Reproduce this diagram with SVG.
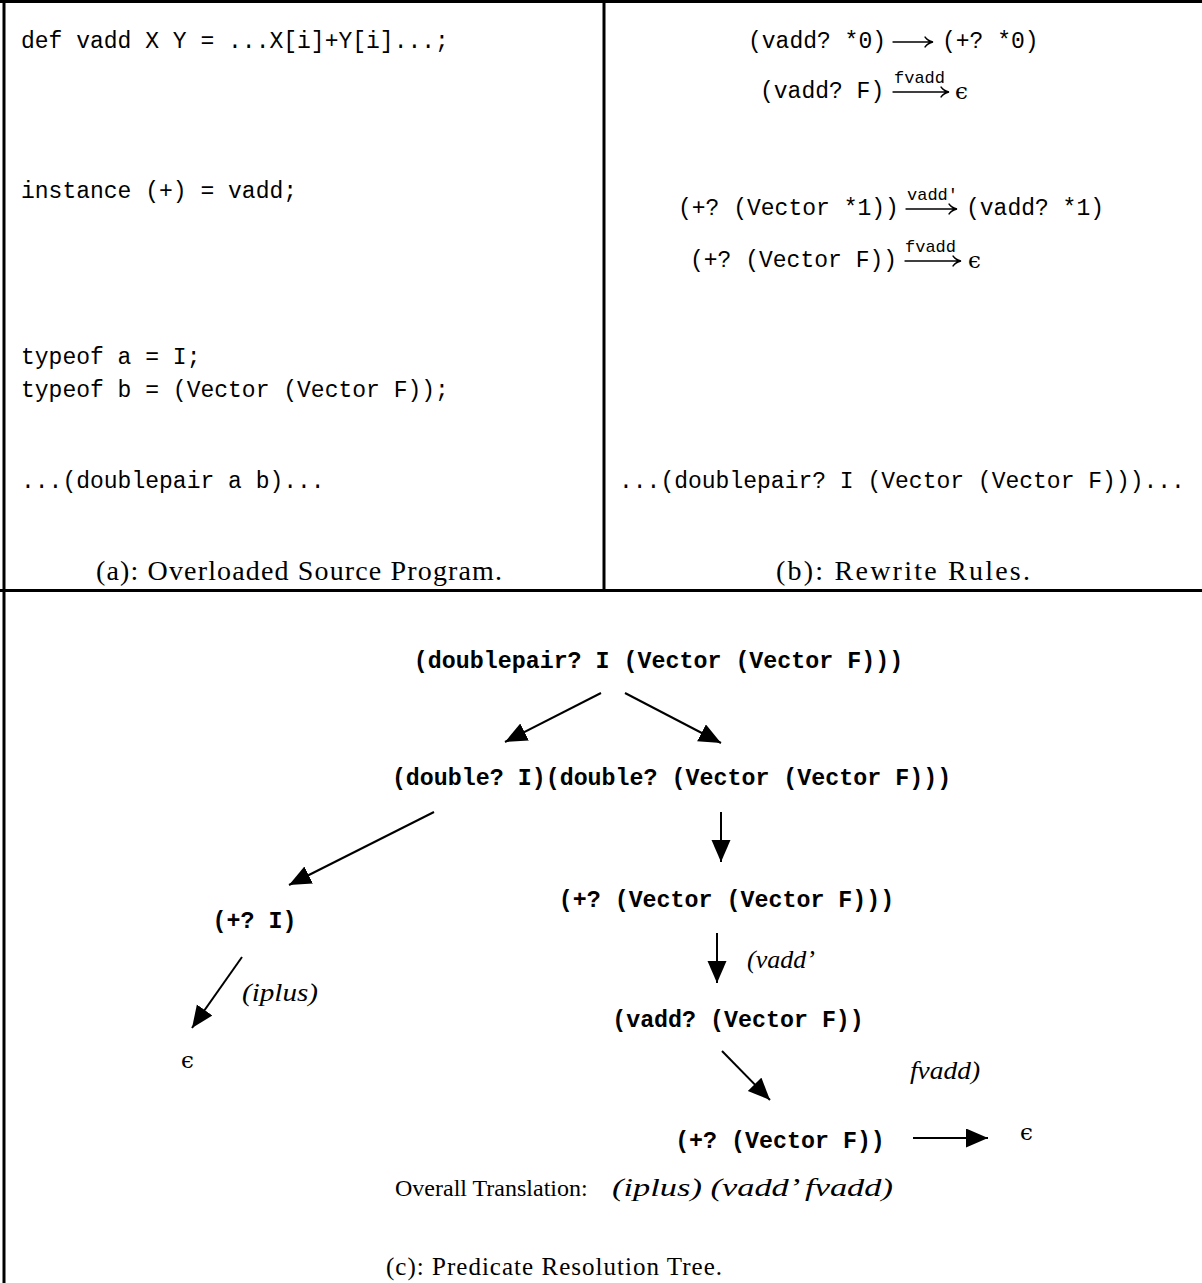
<svg xmlns="http://www.w3.org/2000/svg" width="1202" height="1283" viewBox="0 0 1202 1283">
  <style>
    .tt { font-family: "Liberation Mono", "DejaVu Sans Mono", monospace; font-size: 23px; fill: #000; }
    .ttb { font-family: "Liberation Mono", "DejaVu Sans Mono", monospace; font-size: 23.3px; font-weight: bold; fill: #000; text-anchor: middle; }
    .small { font-family: "Liberation Mono", "DejaVu Sans Mono", monospace; font-size: 17px; fill: #000; }
    .cap { font-family: "Liberation Serif", "DejaVu Serif", serif; font-size: 28px; fill: #000; }
    .capc { font-family: "Liberation Serif", "DejaVu Serif", serif; font-size: 25px; fill: #000; }
    .rm { font-family: "Liberation Serif", "DejaVu Serif", serif; font-size: 24px; fill: #000; }
    .it { font-family: "Liberation Serif", "DejaVu Serif", serif; font-size: 26px; font-style: italic; fill: #000; }
    .eps { font-family: "DejaVu Serif", "Liberation Serif", serif; font-size: 23px; fill: #000; }
    .rule { fill: none; stroke: #000; stroke-width: 3; }
    .edge { fill: none; stroke: #000; stroke-width: 2; }
    .tex { fill: none; stroke: #000; stroke-width: 1.3; stroke-linecap: round; }
  </style>
  <defs>
    <marker id="head" markerUnits="userSpaceOnUse" markerWidth="24" markerHeight="20" refX="22" refY="9.5" orient="auto">
      <path d="M0,0 L22,9.5 L0,19 z" fill="#000"/>
    </marker>
  </defs>

  <rect width="1202" height="1283" fill="#fff"/>

  <!-- frame -->
  <g id="frame">
    <line class="rule" x1="0" y1="1.5" x2="1202" y2="1.5"/>
    <line class="rule" x1="4" y1="0" x2="4" y2="1283"/>
    <line class="rule" x1="604" y1="0" x2="604" y2="590.5"/>
    <line class="rule" x1="0" y1="590.5" x2="1202" y2="590.5"/>
  </g>

  <!-- panel (a): source program -->
  <g id="panel-a">
    <text class="tt" x="21" y="48" xml:space="preserve">def vadd X Y = ...X[i]+Y[i]...;</text>
    <text class="tt" x="21" y="198" xml:space="preserve">instance (+) = vadd;</text>
    <text class="tt" x="21" y="364" xml:space="preserve">typeof a = I;</text>
    <text class="tt" x="21" y="397" xml:space="preserve">typeof b = (Vector (Vector F));</text>
    <text class="tt" x="21" y="488" xml:space="preserve">...(doublepair a b)...</text>
    <text class="cap" x="96" y="580" textLength="406" lengthAdjust="spacing">(a): Overloaded Source Program.</text>
  </g>

  <!-- panel (b): rewrite rules -->
  <g id="panel-b">
    <g id="rule1">
      <text class="tt" x="748" y="48" xml:space="preserve">(vadd? *0)</text>
      <path class="tex" d="M893,42 H932 M925,37 Q928,41 933,42 Q928,43 925,47"/>
      <text class="tt" x="942" y="48" xml:space="preserve">(+? *0)</text>
    </g>
    <g id="rule2">
      <text class="tt" x="760" y="98" xml:space="preserve">(vadd? F)</text>
      <text class="small" x="894" y="83">fvadd</text>
      <path class="tex" d="M893,92 H948 M941,87 Q944,91 949,92 Q944,93 941,97"/>
      <text class="eps" x="955" y="99">ϵ</text>
    </g>
    <g id="rule3">
      <text class="tt" x="678" y="215" xml:space="preserve">(+? (Vector *1))</text>
      <text class="small" x="907" y="200">vadd′</text>
      <path class="tex" d="M906,209 H956 M949,204 Q952,208 957,209 Q952,210 949,214"/>
      <text class="tt" x="966" y="215" xml:space="preserve">(vadd? *1)</text>
    </g>
    <g id="rule4">
      <text class="tt" x="690" y="267" xml:space="preserve">(+? (Vector F))</text>
      <text class="small" x="905" y="252">fvadd</text>
      <path class="tex" d="M905,261 H960 M953,256 Q956,260 961,261 Q956,262 953,266"/>
      <text class="eps" x="968" y="268">ϵ</text>
    </g>
    <text class="tt" x="619" y="488" xml:space="preserve">...(doublepair? I (Vector (Vector F)))...</text>
    <text class="cap" x="776" y="580" textLength="254" lengthAdjust="spacing">(b): Rewrite Rules.</text>
  </g>

  <!-- panel (c): resolution tree -->
  <g id="panel-c">
    <g id="n-doublepair"><text class="ttb" x="658.5" y="668" xml:space="preserve">(doublepair? I (Vector (Vector F)))</text></g>
    <g id="n-double"><text class="ttb" x="671.5" y="785" xml:space="preserve">(double? I)(double? (Vector (Vector F)))</text></g>
    <g id="n-plus-i"><text class="ttb" x="254.5" y="928" xml:space="preserve">(+? I)</text></g>
    <g id="n-eps-left"><text class="eps" x="181" y="1068">ϵ</text></g>
    <g id="n-plus-vvf"><text class="ttb" x="726.5" y="907" xml:space="preserve">(+? (Vector (Vector F)))</text></g>
    <g id="n-vadd-vf"><text class="ttb" x="738" y="1027" xml:space="preserve">(vadd? (Vector F))</text></g>
    <g id="n-plus-vf"><text class="ttb" x="780" y="1148" xml:space="preserve">(+? (Vector F))</text></g>
    <g id="n-eps-right"><text class="eps" x="1020" y="1140">ϵ</text></g>

    <g id="connectors">
      <line class="edge" x1="601" y1="693" x2="505" y2="742" marker-end="url(#head)"/>
      <line class="edge" x1="625" y1="693" x2="721" y2="743" marker-end="url(#head)"/>
      <line class="edge" x1="434" y1="812" x2="289" y2="885" marker-end="url(#head)"/>
      <line class="edge" x1="721" y1="812" x2="721" y2="862" marker-end="url(#head)"/>
      <line class="edge" x1="717" y1="933" x2="717" y2="983" marker-end="url(#head)"/>
      <line class="edge" x1="242" y1="957" x2="192" y2="1028" marker-end="url(#head)"/>
      <line class="edge" x1="722" y1="1051" x2="770" y2="1100" marker-end="url(#head)"/>
      <line class="edge" x1="913" y1="1138" x2="988" y2="1138" marker-end="url(#head)"/>
    </g>

    <text class="it" x="747" y="968">(vadd’</text>
    <text class="it" x="242" y="1001" textLength="76" lengthAdjust="spacingAndGlyphs">(iplus)</text>
    <text class="it" x="910" y="1079" textLength="70" lengthAdjust="spacingAndGlyphs">fvadd)</text>

    <text class="rm" x="395" y="1196">Overall Translation:</text>
    <text class="it" x="612" y="1196" textLength="281" lengthAdjust="spacingAndGlyphs">(iplus) (vadd’ fvadd)</text>

    <text class="capc" x="386" y="1275" textLength="336" lengthAdjust="spacing">(c): Predicate Resolution Tree.</text>
  </g>
</svg>
